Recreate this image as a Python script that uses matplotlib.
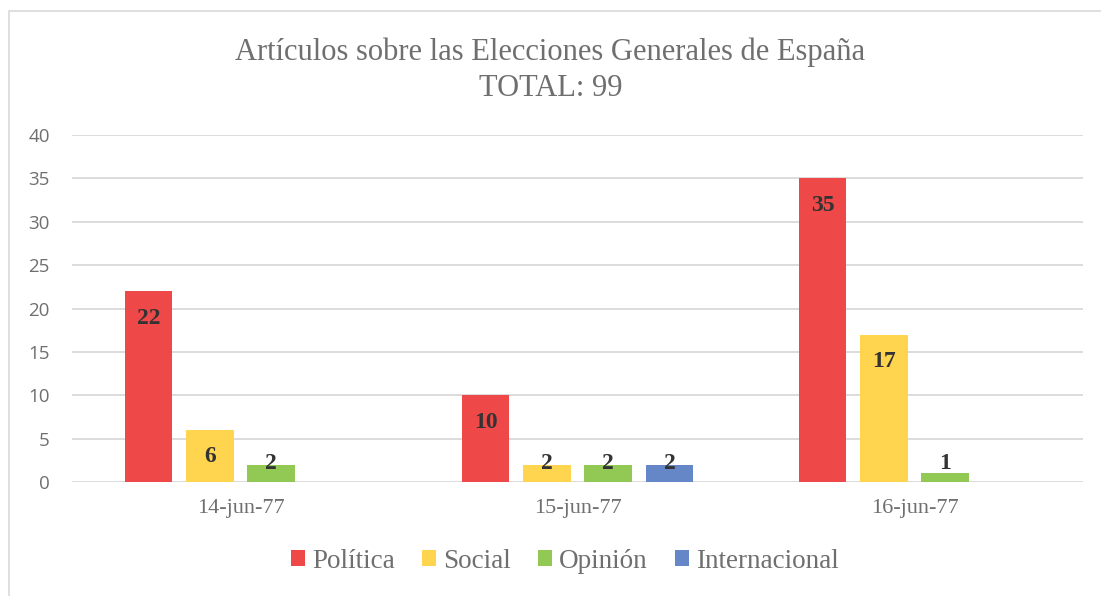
import numpy as np
import matplotlib
matplotlib.use("Agg")
import matplotlib.pyplot as plt
from matplotlib.patches import Rectangle

fechas = ["14-jun-77", "15-jun-77", "16-jun-77"]
series = ["Política", "Social", "Opinión", "Internacional"]
politica = [22, 10, 35]
social = [6, 2, 17]
opinion = [2, 2, 1]
internacional = [None, 2, None]
colores = ["#EF4848", "#FFD44F", "#92C954", "#6587C7"]

W, H = 1101, 596
fig = plt.figure(figsize=(W / 100, H / 100), dpi=100)
ax = fig.add_axes([72 / W, 1 - 482 / H, (1083 - 72) / W, (482 - 135) / H])

# marco del gráfico
fig.patches.append(Rectangle((9 / W, -0.05), 1.1, 1 - 11.5 / H + 0.05,
                             transform=fig.transFigure, fill=False,
                             edgecolor="#d9d9d9", linewidth=1.2))

x = np.arange(len(fechas))
paso = 0.182
ancho = 0.142
datos = [politica, social, opinion, internacional]
for k, (vals, col, nom) in enumerate(zip(datos, colores, series)):
    pos = x + (k - 1.5) * paso
    alturas = [v if v is not None else 0 for v in vals]
    ax.bar(pos, alturas, width=ancho, color=col, label=nom, zorder=3)
    for p, v in zip(pos, vals):
        if v is None:
            continue
        # etiqueta dentro del extremo, o encima si la barra es baja
        ax.text(p, max(v - 3.1, 2.1), str(v), ha="center", va="center",
                fontfamily="Liberation Serif", fontweight="bold",
                fontsize=17, color="#333333", zorder=4)

ax.set_xlim(-0.5, 2.5)
ax.set_ylim(0, 40)
ax.set_yticks(range(0, 41, 5))
ax.set_xticks(x)
ax.set_xticklabels(fechas, fontfamily="Liberation Serif", fontsize=16,
                   color="#6f6f6f")
for t in ax.get_yticklabels():
    t.set_fontfamily("Open Sans")
    t.set_fontsize(13.5)
    t.set_color("#6f6f6f")
ax.tick_params(length=0)
ax.tick_params(axis="y", pad=16)
ax.tick_params(axis="x", pad=12)
ax.grid(axis="y", color="#d9d9d9", linewidth=1.3, zorder=0)
for s in ax.spines.values():
    s.set_visible(False)

fig.text(0.5, 1 - 52 / H, "Artículos sobre las Elecciones Generales de España",
         ha="center", va="center", fontfamily="Liberation Serif",
         fontsize=22, color="#6f6f6f")
fig.text(0.5, 1 - 88 / H, "TOTAL: 99", ha="center", va="center",
         fontfamily="Liberation Serif", fontsize=22, color="#6f6f6f")

leg = fig.legend(loc="center", bbox_to_anchor=(0.513, 1 - 561 / H), ncol=4,
                 frameon=False, prop={"family": "Liberation Serif", "size": 19.5},
                 handlelength=0.52, handleheight=0.52, handletextpad=0.26,
                 columnspacing=1.0)
for t in leg.get_texts():
    t.set_color("#6f6f6f")

fig.savefig("out.png", dpi=100)
